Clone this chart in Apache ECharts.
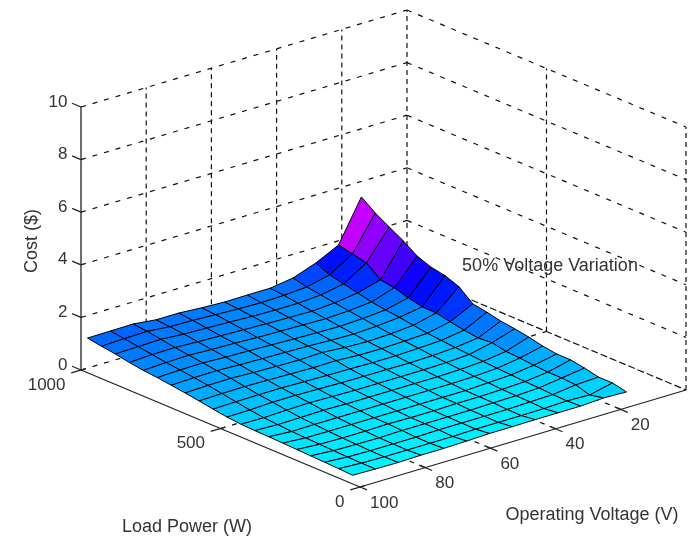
<!DOCTYPE html>
<html><head><meta charset="utf-8">
<style>html,body{margin:0;padding:0;background:#fff}#c{width:697px;height:538px;filter:blur(0.3px)}</style>
<script src="https://cdn.jsdelivr.net/npm/echarts@6/dist/echarts.min.js"></script>
</head><body><div id="c"></div>
<script>
// ---- data ----
const powerLevels = [1000,950,900,850,800,750,700,650,600,550,500,450,400,350,300,250,200,150,100,50];
const voltageLevels = [98,91,84,77,70,63,56,49,42,35,28,21,14];
const costRows = [
 [1.14,1.15,1.16,1.06,1.06,1.00,.96,.97,.97,1.10,1.41,1.84,3.41],
 [1.05,1.08,1.10,1.02,1.00,.96,.92,.90,.92,.98,1.18,1.72,3.02],
 [.98,1.00,1.02,.96,.93,.90,.86,.84,.84,.90,1.06,1.60,2.71],
 [.88,.92,.93,.89,.86,.83,.80,.78,.76,.82,.94,1.18,2.41],
 [.80,.84,.86,.82,.80,.76,.74,.72,.70,.74,.82,1.10,2.05],
 [.75,.78,.79,.75,.73,.70,.67,.65,.63,.67,.74,.94,1.85],
 [.68,.71,.72,.68,.66,.64,.62,.58,.56,.60,.68,.82,1.75],
 [.61,.64,.65,.61,.59,.57,.60,.53,.50,.53,.60,.81,1.55],
 [.53,.55,.56,.54,.52,.50,.51,.46,.45,.48,.52,.70,1.12],
 [.44,.46,.47,.47,.45,.43,.42,.40,.40,.43,.47,.60,1.03],
 [.36,.37,.41,.41,.39,.37,.36,.36,.35,.37,.42,.53,.91],
 [.31,.30,.33,.35,.33,.31,.31,.31,.31,.33,.38,.57,.84],
 [.29,.26,.27,.29,.27,.27,.27,.27,.27,.29,.34,.46,.75],
 [.28,.22,.23,.23,.23,.23,.23,.23,.23,.25,.30,.43,.63],
 [.26,.20,.19,.19,.19,.19,.19,.19,.19,.23,.27,.38,.55],
 [.24,.18,.16,.16,.18,.16,.16,.18,.18,.20,.24,.34,.55],
 [.22,.16,.14,.13,.15,.15,.15,.15,.17,.18,.22,.34,.46],
 [.20,.14,.12,.12,.12,.14,.14,.14,.14,.17,.19,.30,.34],
 [.18,.13,.11,.11,.11,.11,.13,.13,.13,.14,.17,.14,.34],
 [.15,.13,.12,.14,.14,.16,.19,.19,.20,.20,.20,.25,.22]
];
const costTicks = [0,2,4,6,8,10];
const powerTicks = [0,500,1000];
const voltageTicks = [20,40,60,80,100];
const costTitle = 'Cost ($)';
const powerTitle = 'Load Power (W)';
const voltageTitle = 'Operating Voltage (V)';
const annotation = '50% Voltage Variation';

// ---- orthographic view of the MATLAB-style box ----
function project(P, V, z) {
  return [360 - 0.279 * P + 3.26 * (100 - V), 487 - 0.117 * P - 0.97 * (100 - V) - 26.3 * z];
}
function hueToRgb(h) {
  h = ((h % 360) + 360) % 360;
  const s = h / 60, c = Math.floor(s), f = s - c;
  const t = [[1,f,0],[1-f,1,0],[0,1,f],[0,1-f,1],[f,0,1],[1,0,1-f]][c];
  return 'rgb(' + t.map(v => Math.round(v * 255)).join(',') + ')';
}
const costColor = z => hueToRgb(180 + 31 * z);

// ---- marks ----
const cells = [];
for (let i = 0; i < powerLevels.length - 1; i++)
  for (let j = voltageLevels.length - 2; j >= 0; j--) cells.push([i, j]);

const diag = [], vert = [], solid = [], dense = [];
costTicks.forEach(z => {
  diag.push([1000,100,z,1000,0,z]);
  (z === 0 ? dense : diag).push([1000,0,z,0,0,z]);
  solid.push([1000,100,z,1032,100,z]);
});
voltageTicks.filter(v => v < 100).forEach(v => {
  vert.push([1000,v,0,1000,v,10]);
  diag.push([0,v,0,1000,v,0]);
  solid.push([-25,v,0,22,v,0]);
});
solid.push([-25,100,0,0,100,0]);
vert.push([1000,0,0,1000,0,10]);
vert.push([0,0,0,0,0,10]);
vert.push([500,0,0,500,0,10]);
diag.push([500,100,0,500,0,0]);
powerTicks.forEach(p => solid.push([p,103,0,p,98.5,0]));
solid.push([1000,100,0,1000,100,10]);
solid.push([0,100,0,1000,100,0]);
solid.push([0,100,0,0,0,0]);

const tickFont = '17px "Liberation Sans", Arial, sans-serif';
const titleFont = '18px "Liberation Sans", Arial, sans-serif';
const labels = [];
costTicks.forEach(z => { const p = project(1000,100,z); labels.push({t:String(z), x:p[0]-13.5, y:p[1]-5, a:'right', f:tickFont}); });
powerTicks.forEach(v => { const p = project(v,100,0); labels.push({t:String(v), x:p[0]-15.5, y:p[1]+15, a:'right', f:tickFont}); });
voltageTicks.forEach(v => { const p = project(0,v,0); labels.push({t:String(v), x:p[0]+10, y:p[1]+16, a:'left', f:tickFont}); });
labels.push({t:powerTitle, x:187, y:527, a:'center', f:titleFont});
labels.push({t:voltageTitle, x:592, y:515, a:'center', f:titleFont});
labels.push({t:annotation, x:550, y:266, a:'center', f:titleFont});
labels.push({t:costTitle, x:32, y:241, a:'center', r:Math.PI/2, f:titleFont});

function lineSeries(list, dash, stroke, width, zv) {
  return {
    type:'custom', coordinateSystem:'cartesian2d', silent:true, clip:false, z:zv,
    data:list.map((d,i)=>[0,0,i]),
    renderItem(params, api) {
      const d = list[params.dataIndex];
      const a = api.coord(project(d[0],d[1],d[2])), b = api.coord(project(d[3],d[4],d[5]));
      return {type:'line', shape:{x1:a[0],y1:a[1],x2:b[0],y2:b[1]},
        style:{stroke, lineWidth:width, lineDash:dash, fill:null}};
    }
  };
}

const chart = echarts.init(document.getElementById('c'), null, {renderer:'canvas'});
chart.setOption({
  animation:false,
  backgroundColor:'#fff',
  grid:{left:0,right:0,top:0,bottom:0},
  xAxis:{type:'value',min:0,max:697,show:false},
  yAxis:{type:'value',min:0,max:538,inverse:true,show:false},
  series:[
    lineSeries(diag,[5,7],'#111',1.2,1),
    lineSeries(vert,[5,4],'#111',1.2,1),
    lineSeries(dense,[7,3],'#111',1.2,1),
    {
      type:'custom', coordinateSystem:'cartesian2d', silent:true, clip:false, z:3,
      data:cells.map((c,i)=>[0,0,i]),
      renderItem(params, api) {
        const [i,j] = cells[params.dataIndex];
        const corners = [[i,j],[i,j+1],[i+1,j+1],[i+1,j]];
        const pts = corners.map(([a,b]) => api.coord(project(powerLevels[a],voltageLevels[b],costRows[a][b])));
        return {type:'polygon', shape:{points:pts},
          style:{fill:costColor(costRows[i][j+1]), stroke:'#000', lineWidth:1}};
      }
    },
    lineSeries(solid,null,'#222',1.3,4),
    {
      type:'custom', coordinateSystem:'cartesian2d', silent:true, clip:false, z:5,
      data:labels.map((l,i)=>[0,0,i]),
      renderItem(params, api) {
        const l = labels[params.dataIndex];
        const p = api.coord([l.x,l.y]);
        return {type:'text', x:p[0], y:p[1], rotation:l.r||0,
          style:{text:l.t, font:l.f, fill:'#333', align:l.a, verticalAlign:'middle'}};
      }
    }
  ]
});
</script></body></html>
